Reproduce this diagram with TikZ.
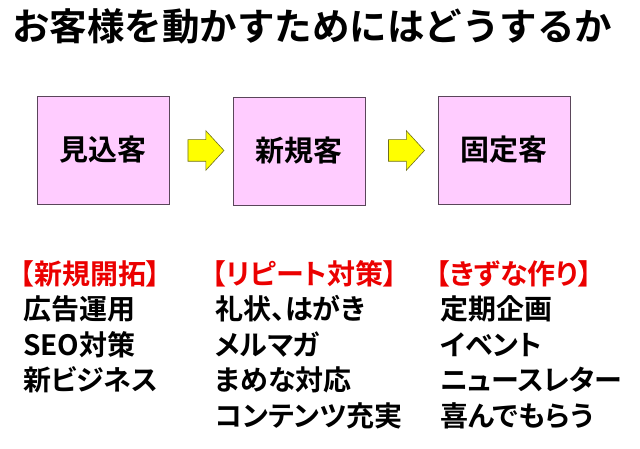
\documentclass[tikz,border=0pt]{standalone}
\usepackage{fontspec}
\setmainfont{Noto Sans CJK JP}[BoldFont=* Bold]
\newfontfamily\jpprop{Noto Sans CJK JP}[BoldFont=* Bold,RawFeature=+palt]
\usetikzlibrary{shapes.arrows,calc}
\definecolor{boxpink}{RGB}{255,204,255}
\definecolor{boxline}{RGB}{90,70,90}
\definecolor{arrowfill}{RGB}{255,255,0}
\definecolor{arrowline}{RGB}{110,110,30}
\definecolor{headred}{RGB}{235,0,0}
\tikzset{
  stage/.style={draw=boxline, fill=boxpink, line width=0.8pt,
    minimum width=132pt, minimum height=108pt, inner sep=0pt,
    font=\fontsize{29}{29}\selectfont\bfseries},
  fwd/.style={single arrow, draw=arrowline, fill=arrowfill, line width=0.6pt,
    inner sep=0pt, inner ysep=10.5pt, minimum height=36pt,
    single arrow head extend=9pt, single arrow tip angle=95},
  item/.style={anchor=base west, inner sep=0pt,
    font=\jpprop\fontsize{28}{28}\selectfont\bfseries},
  heading/.style={item, text=headred}
}
\begin{document}
\begin{tikzpicture}[x=1pt, y=-1pt]
    \useasboundingbox (0,0) rectangle (640,449);
    % title
    \node[anchor=base west, inner sep=0pt, font=\fontsize{37.5}{37.5}\selectfont\bfseries]
        (title) at (12,41) {お客様を動かすためにはどうするか};
    % three stages
    \node[stage] (prospect) at (103,150) {見込客};
    \node[stage] (newcust) at (299,151) {新規客};
    \node[stage] (regular) at (504,150) {固定客};
    \node[fwd] (arrow1) at ($(prospect.east)!0.5!(newcust.west)$) {};
    \node[fwd] (arrow2) at ($(newcust.east)!0.5!(regular.west)$) {};
    % measures under each stage
    \node[heading] (head1) at (20,284) {【新規開拓】};
    \foreach \t [count=\i] in {広告運用, SEO対策, 新ビジネス}
        \node[item] (list1-\i) at (23,284+\i*35.5) {\t};
    \node[heading] (head2) at (212,284) {【リピート対策】};
    \foreach \t [count=\i] in {礼状、はがき, メルマガ, まめな対応, コンテンツ充実}
        \node[item] (list2-\i) at (215,284+\i*35.5) {\t};
    \node[heading] (head3) at (436,284) {【きずな作り】};
    \foreach \t [count=\i] in {定期企画, イベント, ニュースレター, 喜んでもらう}
        \node[item] (list3-\i) at (440,284+\i*35.5) {\t};
\end{tikzpicture}
\end{document}
